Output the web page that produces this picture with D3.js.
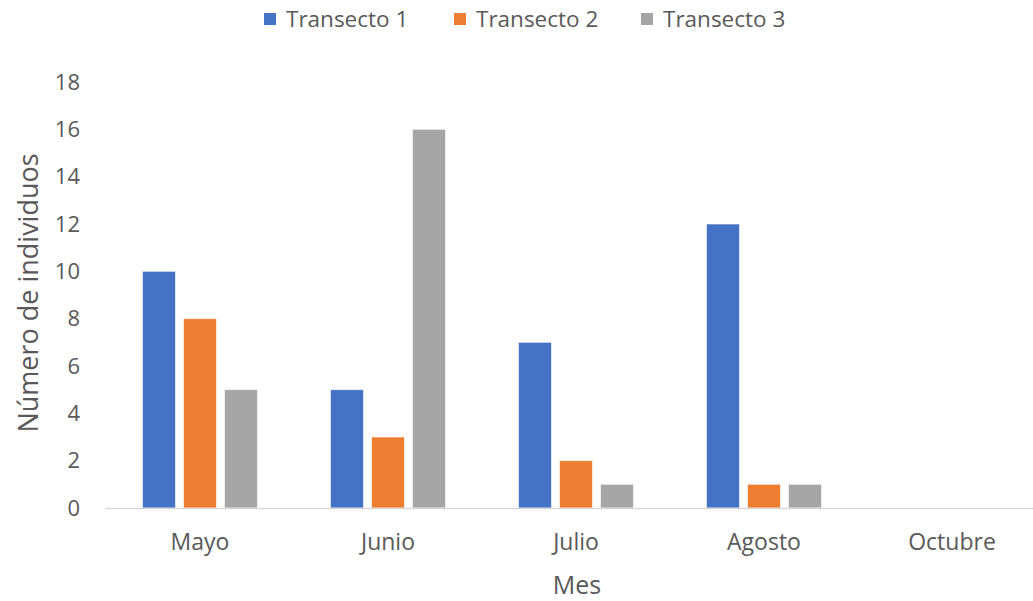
<!DOCTYPE html>
<html>
<head>
<meta charset="utf-8">
<script src="https://cdn.jsdelivr.net/npm/d3@7/dist/d3.min.js"></script>
<style>
  body { margin: 0; background: #fff; }
  text { font-family: "Open Sans", "Liberation Sans", sans-serif; fill: #595959; }
</style>
</head>
<body>
<svg id="chart" width="1033" height="601"></svg>
<script>
// Monthly counts per transect
const months = ["Mayo", "Junio", "Julio", "Agosto", "Octubre"];
const seriesNames = ["Transecto 1", "Transecto 2", "Transecto 3"];
const transecto1 = [10, 5, 7, 12, 0];
const transecto2 = [8, 3, 2, 1, 0];
const transecto3 = [5, 16, 1, 1, 0];
const yTicks = [0, 2, 4, 6, 8, 10, 12, 14, 16, 18];
const colors = ["#4472C4", "#ED7D31", "#A5A5A5"];

const seriesValues = [transecto1, transecto2, transecto3];

const svg = d3.select("#chart");
const W = 1033;

const x = d3.scaleBand().domain(months).range([106, 1046]).paddingInner(0).paddingOuter(0);
const xInner = d3.scaleBand().domain(seriesNames).range([0, x.bandwidth()]).paddingInner(0.195).paddingOuter(0.89);
const y = d3.scaleLinear().domain([0, 18]).range([508, 82]);

// Y axis labels (no gridlines)
const yAxis = d3.axisLeft(y).tickValues(yTicks).tickSize(0).tickPadding(0);
const gy = svg.append("g").attr("transform", "translate(80,0)").call(yAxis);
gy.select(".domain").remove();
gy.selectAll("text").style("font-size", "22px").attr("fill", "#595959");

// Bars
months.forEach((m, i) => {
  seriesValues.forEach((vals, s) => {
    const v = vals[i];
    if (v <= 0) return;
    svg.append("rect")
      .attr("x", x(m) + xInner(seriesNames[s]))
      .attr("y", y(v))
      .attr("width", xInner.bandwidth())
      .attr("height", y(0) - y(v))
      .attr("fill", colors[s])
      .attr("stroke", "#ffffff")
      .attr("stroke-opacity", 0.6)
      .attr("stroke-width", 1);
  });
});

// X axis
const xAxis = d3.axisBottom(x).tickSize(0).tickPadding(26);
const gx = svg.append("g").attr("transform", `translate(0,${y(0)})`).call(xAxis);
gx.select(".domain").remove();
gx.selectAll("text").style("font-size", "23px").attr("fill", "#595959");
svg.append("line")
  .attr("x1", 105).attr("x2", W)
  .attr("y1", y(0) + 0.5).attr("y2", y(0) + 0.5)
  .attr("stroke", "#d9d9d9").attr("stroke-width", 1.5);

// Axis titles
svg.append("text")
  .attr("x", 577).attr("y", 594)
  .attr("text-anchor", "middle")
  .style("font-size", "25px")
  .text("Mes");
svg.append("text")
  .attr("transform", "translate(38,293) rotate(-90)")
  .attr("text-anchor", "middle")
  .style("font-size", "27px")
  .text("Número de individuos");

// Legend
const legendX = [264, 454, 641];
const legend = svg.append("g");
seriesNames.forEach((name, s) => {
  legend.append("rect")
    .attr("x", legendX[s]).attr("y", 13)
    .attr("width", 12).attr("height", 12)
    .attr("fill", colors[s]);
  legend.append("text")
    .attr("x", legendX[s] + 22).attr("y", 27)
    .style("font-size", "22.5px")
    .text(name);
});
</script>
</body>
</html>
